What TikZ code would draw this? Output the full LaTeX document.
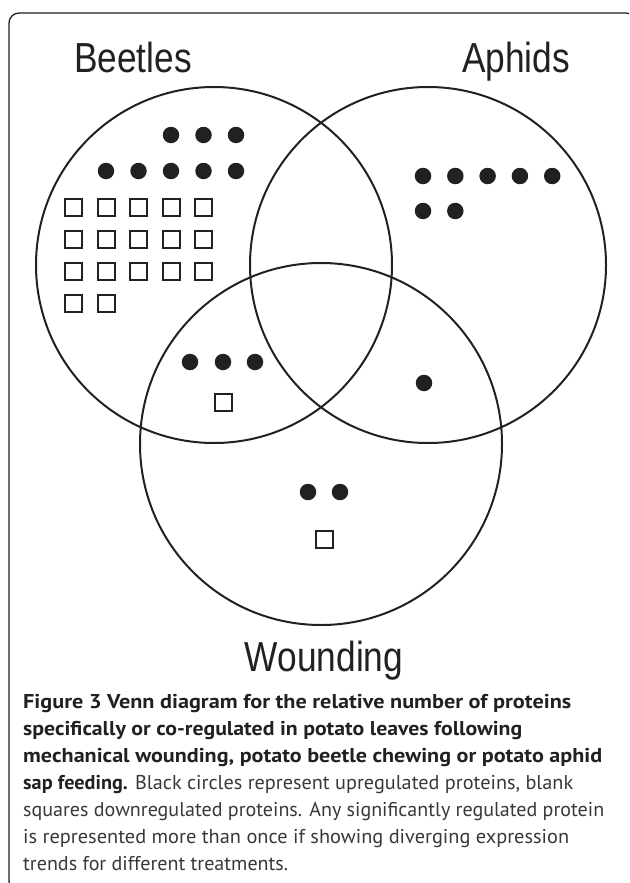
\documentclass[tikz,border=0pt]{standalone}
\usepackage{fontspec}
\setmainfont{PT Sans}
\newfontfamily\labfont{Liberation Sans}
\definecolor{ink}{gray}{0.13}
\definecolor{captxt}{gray}{0.22}
\begin{document}
\begin{tikzpicture}[x=1pt,y=-1pt,
  venn/.style={circle,draw=ink,line width=2pt,inner sep=0pt,minimum size=#1},
  updot/.style={circle,fill=ink,inner sep=0pt,minimum size=16.5pt},
  downsq/.style={rectangle,draw=ink,line width=2pt,inner sep=0pt,minimum size=17pt},
  setlabel/.style={inner sep=0pt,font=\labfont\fontsize{42}{48}\selectfont,text=ink},
  capline/.style={anchor=base west,inner sep=0pt,font=\fontsize{20}{26}\selectfont,text=captxt}]
\useasboundingbox (0,0) rectangle (629,883);
\begin{scope}
\clip (0,0) rectangle (629,883);
\draw[ink, line width=1.3pt, rounded corners=10pt] (9,13) rectangle (636,891);
\end{scope}

% set circles
\node[venn=356pt] (beetles) at (214,265) {};
\node[venn=356pt] (aphids) at (428,265) {};
\node[venn=362pt] (wounding) at (321,444) {};

% labels
\node[setlabel,anchor=base west] (lbeetles) at (74,73) {\scalebox{0.84}[1]{Beetles}};
\node[setlabel,anchor=base west] (laphids) at (462,73) {\scalebox{0.84}[1]{Aphids}};
\node[setlabel,anchor=base] (lwounding) at (324,671) {\scalebox{0.84}[1]{Wounding}};

% beetles only
\foreach \i/\x in {1/171,2/203.5,3/236}
  \node[updot] (bu1\i) at (\x,135) {};
\foreach \i/\x in {1/106,2/138.5,3/171,4/203.5,5/236}
  \node[updot] (bu2\i) at (\x,171) {};
\foreach \r/\y in {1/207,2/239,3/271}
  \foreach \i/\x in {1/73.5,2/106,3/138.5,4/171,5/203.5}
    \node[downsq] (bd\r\i) at (\x,\y) {};
\node[downsq] (bd41) at (73.5,303) {};
\node[downsq] (bd42) at (106,303) {};

% beetles and wounding
\node[updot] (bwu1) at (190,362) {};
\node[updot] (bwu2) at (223,362) {};
\node[updot] (bwu3) at (255,362) {};
\node[downsq] (bwd1) at (223,402) {};

% aphids only
\foreach \i/\x in {1/423,2/455.3,3/487.6,4/519.9,5/552.2}
  \node[updot] (au1\i) at (\x,176) {};
\node[updot] (au21) at (423,211) {};
\node[updot] (au22) at (455.3,211) {};

% aphids and wounding
\node[updot] (awu1) at (424,383) {};

% wounding only
\node[updot] (wu1) at (308,492) {};
\node[updot] (wu2) at (340,492) {};
\node[downsq] (wd1) at (324,539) {};

% caption
\node[capline] (cap1) at (23,708) {\resizebox{548pt}{\height}{\color{ink}\bfseries Figure 3 Venn diagram for the relative number of proteins}};
\node[capline] (cap2) at (23,735) {\resizebox{499pt}{\height}{\color{ink}\bfseries specifically or co-regulated in potato leaves following}};
\node[capline] (cap3) at (23,762) {\resizebox{579pt}{\height}{\color{ink}\bfseries mechanical wounding, potato beetle chewing or potato aphid}};
\node[capline] (cap4) at (23,789) {\resizebox{550pt}{\height}{{\color{ink}\bfseries sap feeding.} Black circles represent upregulated proteins, blank}};
\node[capline] (cap5) at (23,816) {\resizebox{581pt}{\height}{squares downregulated proteins. Any significantly regulated protein}};
\node[capline] (cap6) at (23,843) {\resizebox{546pt}{\height}{is represented more than once if showing diverging expression}};
\node[capline] (cap7) at (23,870) {\resizebox{265pt}{\height}{trends for different treatments.}};
\end{tikzpicture}
\end{document}
